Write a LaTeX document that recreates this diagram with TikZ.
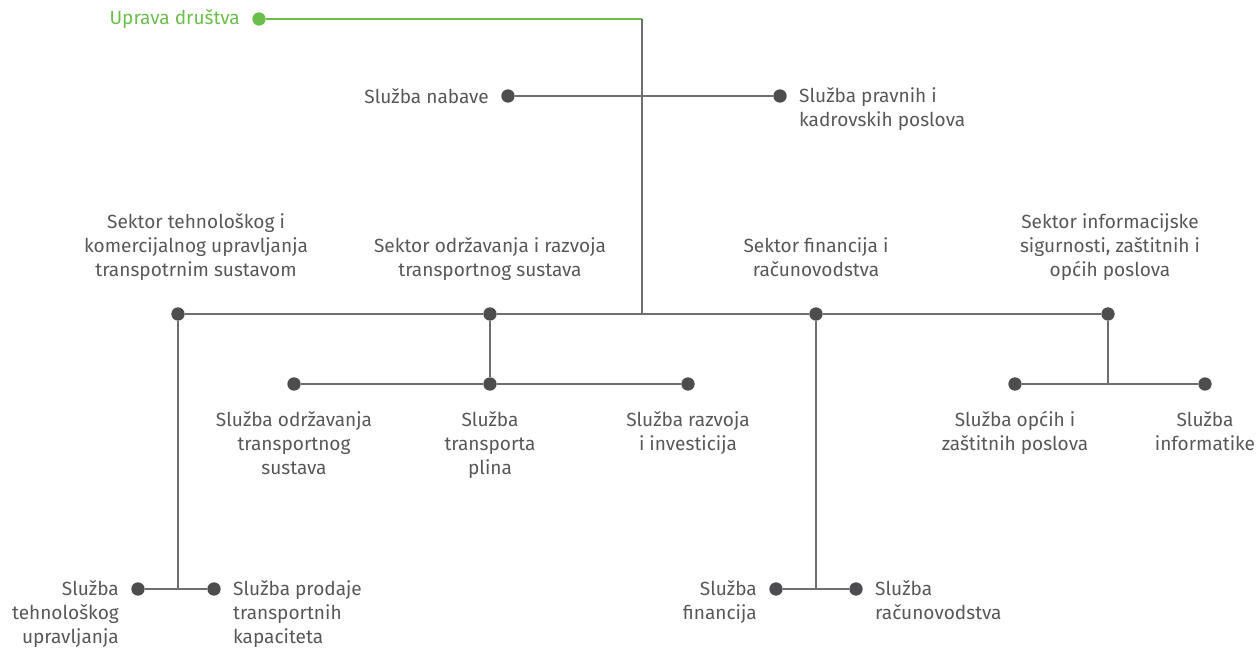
\documentclass[tikz,border=0pt]{standalone}
\usepackage{fontspec}
\setmainfont{Fira Sans}
\usetikzlibrary{positioning}
\definecolor{txtgray}{HTML}{58585A}
\definecolor{linegray}{HTML}{6D6E70}
\definecolor{dotgray}{HTML}{4D4D4F}
\definecolor{upgreen}{HTML}{6ABF4B}
\tikzset{
	dot/.style={circle, fill=dotgray, inner sep=0pt, minimum size=10pt},
	gdot/.style={dot, fill=upgreen},
	line/.style={draw=linegray, line width=1.3pt},
	gline/.style={draw=upgreen, line width=1.3pt},
	txt/.style={font=\fontsize{14.3}{18}\selectfont, text=txtgray, inner sep=0pt},
	ctxt/.style={txt, align=center},
	stxt/.style={txt, align=center, text depth=3.8pt},
	rtxt/.style={txt, align=left, anchor=north west, yshift=6.2pt},
	ltxt/.style={txt, align=right, anchor=north east, yshift=6.2pt}
}
\begin{document}
\begin{tikzpicture}[x=0.75pt, y=-0.75pt]
	\useasboundingbox (0,0) rectangle (1259,648);
	% uprava i sluzbe
	\node (up) [gdot] at (259,19) {};
	\coordinate (upc) at (642,19);
	\coordinate (hub) at (642,314);
	\node (nab) [dot] at (508,96) {};
	\node (pra) [dot] at (780,96) {};
	% sektori
	\node (s1) [dot] at (178,314) {};
	\node (s2) [dot] at (490,314) {};
	\node (s3) [dot] at (816,314) {};
	\node (s4) [dot] at (1108,314) {};
	% sluzbe sektora
	\node (odr) [dot] at (294,384) {};
	\node (tra) [dot] at (490,384) {};
	\node (raz) [dot] at (688,384) {};
	\coordinate (j4) at (1108,384);
	\node (opc) [dot] at (1015,384) {};
	\node (inf) [dot] at (1205,384) {};
	\coordinate (j1) at (178,589);
	\node (teh) [dot] at (138,589) {};
	\node (pro) [dot] at (214,589) {};
	\coordinate (j3) at (816,589);
	\node (fin) [dot] at (776,589) {};
	\node (rac) [dot] at (856,589) {};

	\draw [gline] (up) -- (upc);
	\draw [line] (upc) -- (hub);
	\draw [line] (nab) -- (pra);
	\draw [line] (s1) -- (s2) -- (s3) -- (s4);
	\draw [line] (s2) -- (tra);
	\draw [line] (odr) -- (tra) -- (raz);
	\draw [line] (s4) -- (j4);
	\draw [line] (opc) -- (inf);
	\draw [line] (s1) -- (j1);
	\draw [line] (teh) -- (pro);
	\draw [line] (s3) -- (j3);
	\draw [line] (fin) -- (rac);

	% natpisi
	\node (upL) [left=9pt of up, txt, text=upgreen] {Uprava društva};
	\node (nabL) [left=9pt of nab, txt] {Služba nabave};
	\node (praL) [right=9pt of pra, rtxt] {Služba pravnih i\\kadrovskih poslova};
	\node (s1L) [above=19pt of s1, stxt, xshift=13.5pt] {Sektor tehnološkog i\\komercijalnog upravljanja\\transpotrnim sustavom};
	\node (s2L) [above=19pt of s2, stxt] {Sektor održavanja i razvoja\\transportnog sustava};
	\node (s3L) [above=19pt of s3, stxt] {Sektor financija i\\računovodstva};
	\node (s4L) [above=19pt of s4, stxt, xshift=1.5pt] {Sektor informacijske\\sigurnosti, zaštitnih i\\općih poslova};
	\node (odrL) [below=15pt of odr, ctxt] {Služba održavanja\\transportnog\\sustava};
	\node (traL) [below=15pt of tra, ctxt] {Služba\\transporta\\plina};
	\node (razL) [below=15pt of raz, ctxt] {Služba razvoja\\i investicija};
	\node (opcL) [below=15pt of opc, ctxt] {Služba općih i\\zaštitnih poslova};
	\node (infL) [below=15pt of inf, ctxt] {Služba\\informatike};
	\node (tehL) [left=9pt of teh, ltxt] {Služba\\tehnološkog\\upravljanja};
	\node (proL) [right=9pt of pro, rtxt] {Služba prodaje\\transportnih\\kapaciteta};
	\node (finL) [left=9pt of fin, ltxt] {Služba\\financija};
	\node (racL) [right=9pt of rac, rtxt] {Služba\\računovodstva};
\end{tikzpicture}
\end{document}
